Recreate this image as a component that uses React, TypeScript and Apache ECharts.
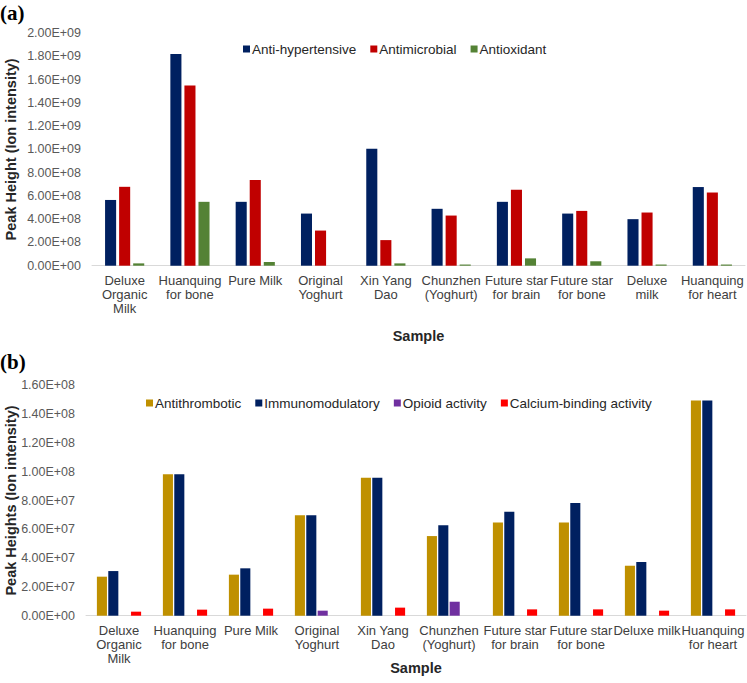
import React, { useEffect, useRef } from "react";
import * as echarts from "echarts";

const samplesA = [
  "Deluxe\nOrganic\nMilk",
  "Huanquing\nfor bone",
  "Pure Milk",
  "Original\nYoghurt",
  "Xin Yang\nDao",
  "Chunzhen\n(Yoghurt)",
  "Future star\nfor brain",
  "Future star\nfor bone",
  "Deluxe\nmilk",
  "Huanquing\nfor heart",
];
const samplesB = [
  "Deluxe\nOrganic\nMilk",
  "Huanquing\nfor bone",
  "Pure Milk",
  "Original\nYoghurt",
  "Xin Yang\nDao",
  "Chunzhen\n(Yoghurt)",
  "Future star\nfor brain",
  "Future star\nfor bone",
  "Deluxe milk",
  "Huanquing\nfor heart",
];

const antiHypertensive = [5.65e8, 1.82e9, 5.49e8, 4.48e8, 1.006e9, 4.89e8, 5.49e8, 4.48e8, 4.0e8, 6.76e8];
const antimicrobial = [6.78e8, 1.549e9, 7.36e8, 3.02e8, 2.2e8, 4.31e8, 6.52e8, 4.71e8, 4.57e8, 6.29e8];
const antioxidant = [2.0e7, 5.49e8, 3.2e7, 0, 2.0e7, 1.0e7, 6.3e7, 3.8e7, 1.0e7, 1.0e7];

const antithrombotic = [2.71e7, 9.82e7, 2.85e7, 6.97e7, 9.58e7, 5.53e7, 6.48e7, 6.48e7, 3.47e7, 1.495e8];
const immunomodulatory = [3.1e7, 9.82e7, 3.29e7, 6.97e7, 9.58e7, 6.28e7, 7.22e7, 7.83e7, 3.73e7, 1.495e8];
const opioid = [0, 0, 0, 3.5e6, 0, 9.7e6, 0, 0, 0, 0];
const calciumBinding = [2.8e6, 4.2e6, 4.9e6, 0, 5.6e6, 0, 4.4e6, 4.4e6, 3.5e6, 4.4e6];

const FONT = "'Liberation Sans', Arial, sans-serif";

function sci(v: number): string {
  if (v === 0) return "0.00E+00";
  let e = Math.floor(Math.log10(v) + 1e-9);
  let m = v / Math.pow(10, e);
  const s = e < 0 ? "-" : "+";
  const ae = Math.abs(e);
  return m.toFixed(2) + "E" + s + (ae < 10 ? "0" + ae : String(ae));
}

export default function App() {
  const ref = useRef<HTMLDivElement>(null);
  useEffect(() => {
    if (!ref.current) return;
    const chart = echarts.init(ref.current, undefined, { renderer: "svg" });
    const axisLabelY = { formatter: (v: number) => sci(v), color: "#595959", fontSize: 12.5, fontFamily: FONT, margin: 11 };
    const axisLabelX = { color: "#404040", fontSize: 13, fontFamily: FONT, lineHeight: 14, margin: 8, interval: 0 };
    const yName = { fontSize: 14.5, fontWeight: "bold" as const, color: "#262626", fontFamily: FONT };
    chart.setOption({
      animation: false,
      backgroundColor: "#ffffff",
      graphic: [
        { type: "text", left: 0, top: 2, style: { text: "(a)", font: "bold 21px 'Liberation Serif', 'Times New Roman', serif", fill: "#000" } },
        { type: "text", left: 0, top: 351, style: { text: "(b)", font: "bold 21px 'Liberation Serif', 'Times New Roman', serif", fill: "#000" } },
      ],
      legend: [
        {
          data: ["Anti-hypertensive", "Antimicrobial", "Antioxidant"],
          left: 238,
          top: 37,
          icon: "rect",
          itemWidth: 7,
          itemHeight: 7,
          itemGap: 14,
          textStyle: { fontSize: 13.5, fontFamily: FONT, color: "#262626", padding: [0, 0, 0, -3] },
        },
        {
          data: ["Antithrombotic", "Immunomodulatory", "Opioid activity", "Calcium-binding activity"],
          left: 141,
          top: 391,
          icon: "rect",
          itemWidth: 7,
          itemHeight: 7,
          itemGap: 14,
          textStyle: { fontSize: 13.5, fontFamily: FONT, color: "#262626", padding: [0, 0, 0, -3] },
        },
      ],
      grid: [
        { left: 92, top: 33, width: 653, height: 232.7, containLabel: false, outerBoundsMode: "none" },
        { left: 86, top: 385.3, width: 660, height: 230.4, containLabel: false, outerBoundsMode: "none" },
      ],
      xAxis: [
        {
          type: "category",
          gridIndex: 0,
          data: samplesA,
          axisLine: { lineStyle: { color: "#D9D9D9", width: 1 } },
          axisTick: { show: false },
          axisLabel: axisLabelX,
          name: "Sample",
          nameLocation: "middle",
          nameGap: 63,
          nameMoveOverlap: false,
          nameTextStyle: yName,
        },
        {
          type: "category",
          gridIndex: 1,
          data: samplesB,
          axisLine: { lineStyle: { color: "#D9D9D9", width: 1 } },
          axisTick: { show: false },
          axisLabel: axisLabelX,
          name: "Sample",
          nameLocation: "middle",
          nameGap: 45,
          nameMoveOverlap: false,
          nameTextStyle: yName,
        },
      ],
      yAxis: [
        {
          type: "value",
          gridIndex: 0,
          min: 0,
          max: 2e9,
          interval: 2e8,
          axisLine: { show: false },
          axisTick: { show: false },
          splitLine: { show: false },
          axisLabel: axisLabelY,
          name: "Peak Height (Ion intensity)",
          nameLocation: "middle",
          nameRotate: 90,
          nameGap: 74,
          nameMoveOverlap: false,
          nameTextStyle: yName,
        },
        {
          type: "value",
          gridIndex: 1,
          min: 0,
          max: 1.6e8,
          interval: 2e7,
          axisLine: { show: false },
          axisTick: { show: false },
          splitLine: { show: false },
          axisLabel: axisLabelY,
          name: "Peak Heights (Ion intensity)",
          nameLocation: "middle",
          nameRotate: 90,
          nameGap: 68,
          nameMoveOverlap: false,
          nameTextStyle: yName,
        },
      ],
      series: [
        { name: "Anti-hypertensive", type: "bar", xAxisIndex: 0, yAxisIndex: 0, data: antiHypertensive, itemStyle: { color: "#002060" }, barGap: "27%", barCategoryGap: "40%" },
        { name: "Antimicrobial", type: "bar", xAxisIndex: 0, yAxisIndex: 0, data: antimicrobial, itemStyle: { color: "#C00000" } },
        { name: "Antioxidant", type: "bar", xAxisIndex: 0, yAxisIndex: 0, data: antioxidant, itemStyle: { color: "#548235" } },
        { name: "Antithrombotic", type: "bar", xAxisIndex: 1, yAxisIndex: 1, data: antithrombotic, itemStyle: { color: "#BF9000" }, barGap: "13%", barCategoryGap: "33%" },
        { name: "Immunomodulatory", type: "bar", xAxisIndex: 1, yAxisIndex: 1, data: immunomodulatory, itemStyle: { color: "#002060" } },
        { name: "Opioid activity", type: "bar", xAxisIndex: 1, yAxisIndex: 1, data: opioid, itemStyle: { color: "#7030A0" } },
        { name: "Calcium-binding activity", type: "bar", xAxisIndex: 1, yAxisIndex: 1, data: calciumBinding, itemStyle: { color: "#FF0000" } },
      ],
    });
    return () => chart.dispose();
  }, []);
  return <div ref={ref} style={{ width: 747, height: 683, position: "absolute", left: 0, top: 0 }} />;
}
